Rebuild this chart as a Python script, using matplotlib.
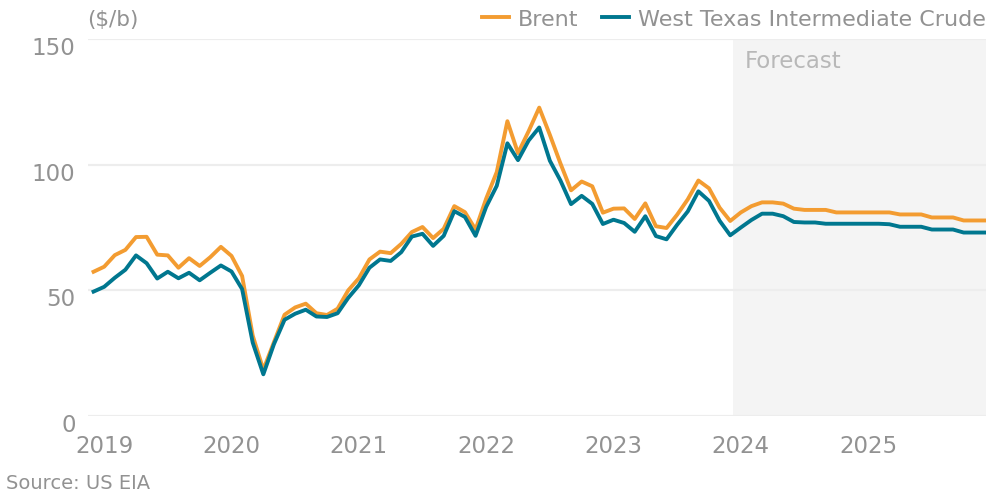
import pandas as pd
import numpy as np
import matplotlib
matplotlib.use("Agg")
import matplotlib.pyplot as plt
import matplotlib.transforms as mtransforms

# monthly averages, Dec 2018 .. Dec 2025 ($/b); Jan 2024 onward is forecast
brent = [57.4,
         59.4, 64.0, 66.1, 71.2, 71.3, 64.2, 63.9, 59.0, 62.8, 59.7, 63.2, 67.3,
         63.7, 55.7, 32.0, 18.4, 29.4, 40.3, 43.2, 44.7, 40.9, 40.2, 42.7, 50.0,
         54.8, 62.3, 65.4, 64.8, 68.5, 73.2, 75.2, 70.8, 74.5, 83.5, 81.1, 74.2,
         86.5, 97.1, 117.3, 104.6, 113.3, 122.7, 111.9, 100.5, 89.8, 93.3, 91.4, 80.9,
         82.5, 82.6, 78.4, 84.6, 75.5, 74.8, 80.1, 86.2, 93.7, 90.6, 82.9, 77.6,
         81.0, 83.5, 85.0, 85.0, 84.5, 82.5, 82.0, 82.0, 82.0, 81.0, 81.0, 81.0,
         81.0, 81.0, 81.0, 80.2, 80.2, 80.2, 79.0, 79.0, 79.0, 77.8, 77.8, 77.8]

wti = [49.5,
       51.4, 55.0, 58.2, 63.9, 60.8, 54.7, 57.4, 54.8, 57.0, 54.0, 57.0, 59.9,
       57.5, 50.5, 29.2, 16.6, 28.6, 38.3, 40.7, 42.3, 39.6, 39.4, 40.9, 47.0,
       52.0, 59.0, 62.3, 61.7, 65.2, 71.4, 72.5, 67.7, 71.7, 81.5, 79.2, 71.7,
       83.2, 91.6, 108.5, 101.8, 109.6, 114.8, 101.6, 93.7, 84.3, 87.6, 84.4, 76.4,
       78.1, 76.8, 73.3, 79.5, 71.6, 70.3, 76.1, 81.4, 89.4, 85.6, 77.7, 71.9,
       75.0, 78.0, 80.5, 80.5, 79.5, 77.2, 77.0, 77.0, 76.5, 76.5, 76.5, 76.5,
       76.5, 76.5, 76.3, 75.3, 75.3, 75.3, 74.2, 74.2, 74.2, 73.0, 73.0, 73.0]

years = ["2019", "2020", "2021", "2022", "2023", "2024", "2025"]
yticks = [0, 50, 100, 150]

months = np.arange(len(brent))
forecast_start = 60.3

grey = "#929292"
plt.rcParams["font.family"] = ["DejaVu Sans"]

fig = plt.figure(figsize=(9.87, 5.02), dpi=100)
ax = fig.add_axes([0.0892, 0.1693, 0.9108, 0.751])

ax.axvspan(forecast_start, 90, color="#f4f4f4", zorder=0, lw=0)
ax.text(forecast_start + 1.1, 141.3, "Forecast", color="#b8b8b8", fontsize=16.5,
        va="center", ha="left")

for y in yticks:
    ax.axhline(y, color="#ededed", lw=1.6, zorder=1)

ax.plot(months, brent, color="#f39c31", lw=2.8, label="Brent", zorder=3,
        solid_joinstyle="round")
ax.plot(months, wti, color="#00778f", lw=2.8, label="West Texas Intermediate Crude",
        zorder=4, solid_joinstyle="round")

ax.set_xlim(-0.52, 84.2)
ax.set_ylim(0, 150)
ax.set_yticks(yticks)
ax.set_yticklabels([str(v) for v in yticks])
ax.set_xticks([1 + 12 * i for i in range(len(years))])
ax.set_xticklabels(years)
ax.tick_params(axis="both", length=0, labelsize=16.5, colors=grey)
ax.tick_params(axis="y", pad=9)
ax.tick_params(axis="x", pad=13)
for s in ax.spines.values():
    s.set_visible(False)

off = mtransforms.ScaledTranslation(0, -6 / 100, fig.dpi_scale_trans)
for lab in ax.get_yticklabels():
    lab.set_transform(lab.get_transform() + off)

fig.text(87 / 987, 1 - 20 / 502, "($/b)", color=grey, fontsize=15.5,
         va="center", ha="left")
fig.text(6 / 987, 1 - 484 / 502, "Source: US EIA", color=grey, fontsize=14,
         va="center", ha="left")

leg = ax.legend(loc="center left", bbox_to_anchor=(482 / 987, 1 - 20 / 502),
                bbox_transform=fig.transFigure, ncol=2, frameon=False,
                fontsize=16, handlelength=1.22, handletextpad=0.4,
                columnspacing=1.04, borderpad=0, borderaxespad=0)
for t in leg.get_texts():
    t.set_color(grey)

fig.savefig("out.png", dpi=100)
